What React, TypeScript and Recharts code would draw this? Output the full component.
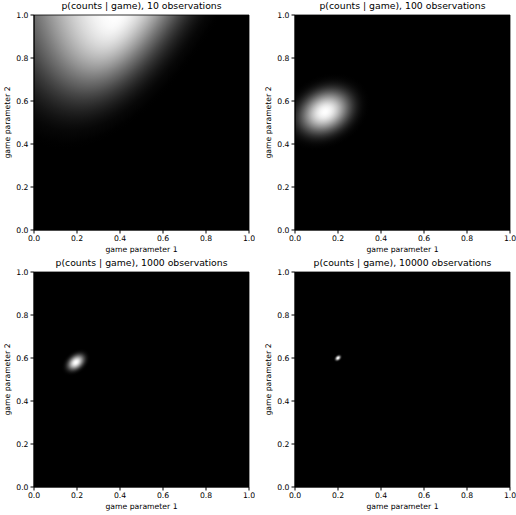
import { ScatterChart, XAxis, YAxis, ReferenceArea } from 'recharts'

const observations = [10, 100, 1000, 10000]
// brightest spot of each likelihood surface
const peakX = [0.38, 0.14, 0.195, 0.2]
const peakY = [1.0, 0.55, 0.58, 0.6]
// ellipse that holds the glow: centre, half axes, tilt (deg), how fast it fades
const glowX = [0.62, 0.14, 0.195, 0.2]
const glowY = [3.27, 0.55, 0.58, 0.6]
const glowMajor = [3.0, 0.25, 0.088, 0.028]
const glowMinor = [1.05, 0.19, 0.06, 0.02]
const glowTilt = [79, 28, 40, 40]
const glowFalloff = [3.6, 4.5, 4.5, 4.5]
const ticks = [0, 0.2, 0.4, 0.6, 0.8, 1.0]

const W = 255
const H = 257
const margin = { top: 15, right: 6, bottom: 0, left: 0 }
const spots = [
  [0, 0],
  [261, 0],
  [0, 257],
  [261, 257],
]

const tickStyle = { fontSize: 7.7, fill: '#000' }

function Panel({ i }: { i: number }) {
  const id = `glow-${i}`
  const a = (glowTilt[i] * Math.PI) / 180
  const cx = glowX[i]
  const cy = 1 - glowY[i]
  const dx = peakX[i] - cx
  const dy = 1 - peakY[i] - cy
  const ratio = glowMinor[i] / glowMajor[i]
  // focal point before the ellipse transform is applied
  const fx = cx + dx * Math.cos(a) - dy * Math.sin(a)
  const fy = cy + (dx * Math.sin(a) + dy * Math.cos(a)) / ratio
  const stops = Array.from({ length: 25 }, (_, k) => {
    const t = k / 24
    const v = Math.round(255 * Math.pow(Math.max(0, 1 - t * t), glowFalloff[i]))
    return <stop key={k} offset={t} stopColor={`rgb(${v},${v},${v})`} />
  })
  const plotW = W - margin.right - 34

  return (
    <div style={{ position: 'absolute', left: spots[i][0], top: spots[i][1] }}>
      <ScatterChart width={W} height={H} margin={margin}>
        <defs>
          <radialGradient
            id={id}
            gradientUnits="objectBoundingBox"
            cx={cx}
            cy={cy}
            r={glowMajor[i]}
            fx={fx}
            fy={fy}
            gradientTransform={`translate(${cx} ${cy}) rotate(${-glowTilt[i]}) scale(1 ${ratio}) translate(${-cx} ${-cy})`}
          >
            {stops}
          </radialGradient>
        </defs>
        <XAxis
          type="number"
          dataKey="x"
          domain={[0, 1]}
          ticks={ticks}
          interval={0}
          allowDataOverflow
          height={27}
          tickSize={3.5}
          tickMargin={2.5}
          tick={tickStyle}
          tickFormatter={(v: number) => v.toFixed(1)}
          stroke="#000"
          label={{ value: 'game parameter 1', position: 'insideBottom', offset: 4.8, fontSize: 7.7, fill: '#000' }}
        />
        <YAxis
          type="number"
          dataKey="y"
          domain={[0, 1]}
          ticks={ticks}
          interval={0}
          allowDataOverflow
          width={34}
          tickSize={3.5}
          tickMargin={2}
          tick={tickStyle}
          tickFormatter={(v: number) => v.toFixed(1)}
          stroke="#000"
          label={{
            value: 'game parameter 2',
            angle: -90,
            position: 'insideLeft',
            offset: 7.3,
            fontSize: 7.7,
            fill: '#000',
            style: { textAnchor: 'middle' },
          }}
        />
        <ReferenceArea x1={0} x2={1} y1={0} y2={1} fill={`url(#${id})`} fillOpacity={1} stroke="#000" strokeWidth={0.8} />
        <text x={34 + plotW / 2} y={9.4} textAnchor="middle" fontSize={9.3} fill="#000">
          {`p(counts | game), ${observations[i]} observations`}
        </text>
      </ScatterChart>
    </div>
  )
}

export default function App() {
  return (
    <div
      style={{
        position: 'absolute',
        left: 0,
        top: 0,
        width: 516,
        height: 515,
        background: '#fff',
        fontFamily: 'DejaVu Sans',
      }}
    >
      {observations.map((_, i) => (
        <Panel key={i} i={i} />
      ))}
    </div>
  )
}
